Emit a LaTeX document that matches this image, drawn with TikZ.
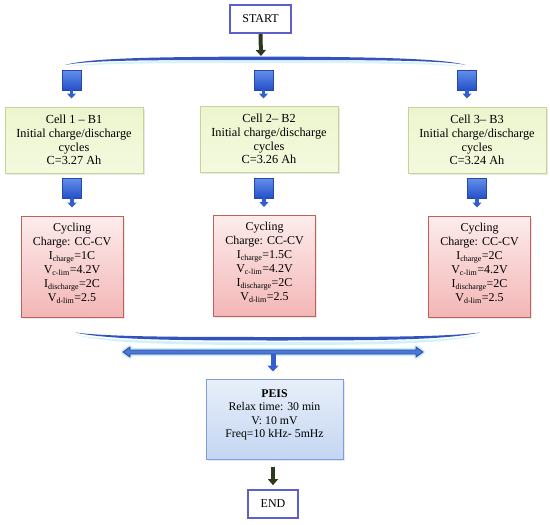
\documentclass[tikz,border=0pt]{standalone}
\usepackage{fontspec}
\setmainfont{Liberation Serif}
\usetikzlibrary{shadows,arrows.meta}
\definecolor{termblue}{RGB}{92,96,205}
\definecolor{greenborder}{RGB}{196,214,150}
\definecolor{greentop}{RGB}{236,245,206}
\definecolor{greenbot}{RGB}{244,249,222}
\definecolor{redborder}{RGB}{192,96,86}
\definecolor{redtop}{RGB}{253,236,236}
\definecolor{redbot}{RGB}{243,182,182}
\definecolor{blueborder}{RGB}{128,156,224}
\definecolor{bluetop}{RGB}{232,239,250}
\definecolor{bluebot}{RGB}{196,214,242}
\definecolor{blocktop}{RGB}{100,145,235}
\definecolor{blockbot}{RGB}{36,80,200}
\definecolor{blockedge}{RGB}{40,70,170}
\definecolor{arrowblue}{RGB}{52,94,205}
\definecolor{bracedark}{RGB}{50,82,190}
\definecolor{glow}{RGB}{190,238,245}
\definecolor{darkarrow}{RGB}{44,58,28}
\tikzset{
  termbox/.style={draw=termblue, line width=1.7pt, fill=white, minimum width=61pt,
    minimum height=28pt, inner sep=0pt, font=\fontsize{12}{14}\selectfont},
  cellbox/.style={draw=greenborder, line width=1pt, top color=greentop, bottom color=greenbot,
    minimum width=138pt, minimum height=66pt, inner sep=0pt, align=center,
    font=\fontsize{12.3}{13.8}\selectfont,
    drop shadow={opacity=0.18, shadow xshift=1.5pt, shadow yshift=-1.5pt}},
  cyclebox/.style={draw=redborder, line width=1pt, top color=redtop, bottom color=redbot,
    minimum width=102pt, minimum height=101pt, inner sep=0pt,
    drop shadow={opacity=0.18, shadow xshift=1.5pt, shadow yshift=-1.5pt}},
  cycletext/.style={align=center, inner sep=0pt, font=\fontsize{12}{14}\selectfont},
  peisbox/.style={draw=blueborder, line width=1pt, top color=bluetop, bottom color=bluebot,
    minimum width=137pt, minimum height=80pt, inner sep=0pt,
    drop shadow={opacity=0.18, shadow xshift=1.5pt, shadow yshift=-1.5pt}},
  peistext/.style={align=center, inner sep=0pt, font=\fontsize{11.8}{13.5}\selectfont},
  blockhead/.style={draw=blockedge, line width=0.6pt, top color=blocktop, bottom color=blockbot,
    minimum width=19pt, minimum height=20pt, inner sep=0pt},
  bluearrow/.style={draw=arrowblue, line width=3.5pt, -{Triangle[width=9pt,length=5pt]}},
  darkarr/.style={draw=darkarrow, line width=4pt, -{Triangle[width=10pt,length=6pt]}},
}
\begin{document}
\begin{tikzpicture}[x=1pt,y=-1pt]
\useasboundingbox[fill=white] (0,0) rectangle (550,525);

% START
\node[termbox] (start) at (260.5,19) {START};

% top brace
\coordinate (tb) at (261,56);
\fill[glow, opacity=0.6] (66,67) .. controls (95,61) and (160,60.5) .. (262,60.5)
  .. controls (365,60.5) and (435,61) .. (465,67)
  .. controls (435,63.5) and (365,63) .. (262,63)
  .. controls (160,63) and (95,63.5) .. (66,67) -- cycle;
\fill[bracedark] (65,65) .. controls (90,58) and (150,57) .. (262,56.5)
  .. controls (370,57) and (440,58) .. (466,65)
  .. controls (440,60) and (370,60) .. (262,60)
  .. controls (150,60) and (90,60) .. (65,65) -- cycle;
\draw[darkarr] (start.south) -- (tb);

% row 1 block arrows
\node[blockhead] (b1) at (71.5,80) {};
\node[blockhead] (b2) at (263.5,80) {};
\node[blockhead] (b3) at (467,80) {};

% green cell boxes
\node[cellbox] (g1) at (74,140) {Cell 1 -- B1\\Initial charge/discharge\\cycles\\C=3.27 Ah};
\node[cellbox] (g2) at (269,139) {Cell 2-- B2\\Initial charge/discharge\\cycles\\C=3.26 Ah};
\node[cellbox] (g3) at (477,140) {Cell 3-- B3\\Initial charge/discharge\\cycles\\C=3.24 Ah};

\draw[bluearrow, shorten >=8pt] (b1.south) -- (b1.south |- g1.north);
\draw[bluearrow, shorten >=7pt] (b2.south) -- (b2.south |- g2.north);
\draw[bluearrow, shorten >=8pt] (b3.south) -- (b3.south |- g3.north);

% row 2 block arrows
\node[blockhead] (c1) at (72,188) {};
\node[blockhead] (c2) at (264,188) {};
\node[blockhead] (c3) at (477,188) {};

% red cycling boxes
\node[cyclebox] (r1) at (72,266.5) {};
\node[cyclebox] (r2) at (264.5,266) {};
\node[cyclebox] (r3) at (479.5,266.5) {};
\node[cycletext] (r1t) at ([yshift=3.5pt]r1.center) {Cycling\\Charge: CC-CV\\I\textsubscript{charge}=1C\\V\textsubscript{c-lim}=4.2V\\I\textsubscript{discharge}=2C\\V\textsubscript{d-lim}=2.5};
\node[cycletext] (r2t) at ([yshift=3.5pt]r2.center) {Cycling\\Charge: CC-CV\\I\textsubscript{charge}=1.5C\\V\textsubscript{c-lim}=4.2V\\I\textsubscript{discharge}=2C\\V\textsubscript{d-lim}=2.5};
\node[cycletext] (r3t) at ([yshift=3.5pt]r3.center) {Cycling\\Charge: CC-CV\\I\textsubscript{charge}=2C\\V\textsubscript{c-lim}=4.2V\\I\textsubscript{discharge}=2C\\V\textsubscript{d-lim}=2.5};

\draw[bluearrow, shorten >=8pt] (c1.south) -- (c1.south |- r1.north);
\draw[bluearrow, shorten >=8pt] (c2.south) -- (c2.south |- r2.north);
\draw[bluearrow, shorten >=8pt] (c3.south) -- (c3.south |- r3.north);

% bottom brace
\fill[glow, opacity=0.7] (76,335) .. controls (110,341) and (180,342) .. (277,342)
  .. controls (380,342) and (445,341) .. (479,335)
  .. controls (445,344) and (380,345) .. (277,345)
  .. controls (180,345) and (110,344) .. (76,335) -- cycle;
\fill[bracedark] (75,332.5) .. controls (110,337) and (180,337) .. (277,337)
  .. controls (380,337) and (445,337) .. (480,332.5)
  .. controls (445,340) and (380,340.5) .. (277,340.5)
  .. controls (180,340.5) and (110,340) .. (75,332.5) -- cycle;

% double arrow
\coordinate (dl) at (123,352);
\coordinate (dr) at (423,352);
\coordinate (dm) at (273,354);
\draw[glow, line width=4pt, line join=round, opacity=0.9]
  (dl) -- ++(7,-5) -- ++(0,3) -- (416,350) -- ++(0,-3) -- (dr) -- ++(-7,5) -- ++(0,-3)
  -- (130,354) -- ++(0,3) -- cycle;
\filldraw[fill=arrowblue!85!white, draw=blockedge, line width=0.8pt, line join=round]
  (dl) -- ++(7,-5) -- ++(0,3) -- (416,350) -- ++(0,-3) -- (dr) -- ++(-7,5) -- ++(0,-3)
  -- (130,354) -- ++(0,3) -- cycle;

% PEIS
\node[peisbox] (peis) at (274.5,419) {};
\node[peistext] (peist) at ([yshift=4pt]peis.center) {\textbf{PEIS}\\Relax time: 30 min\\V: 10 mV\\Freq=10 kHz- 5mHz};
\draw[draw=arrowblue, line width=5pt, -{Triangle[width=11pt,length=6pt]}, shorten >=7pt] (dm) -- (dm |- peis.north);

% END
\node[termbox, minimum width=50pt] (end) at (273,504) {END};
\draw[darkarr, shorten <=7pt, shorten >=4pt] (peis.south -| end.north) -- (end.north);
\end{tikzpicture}
\end{document}
